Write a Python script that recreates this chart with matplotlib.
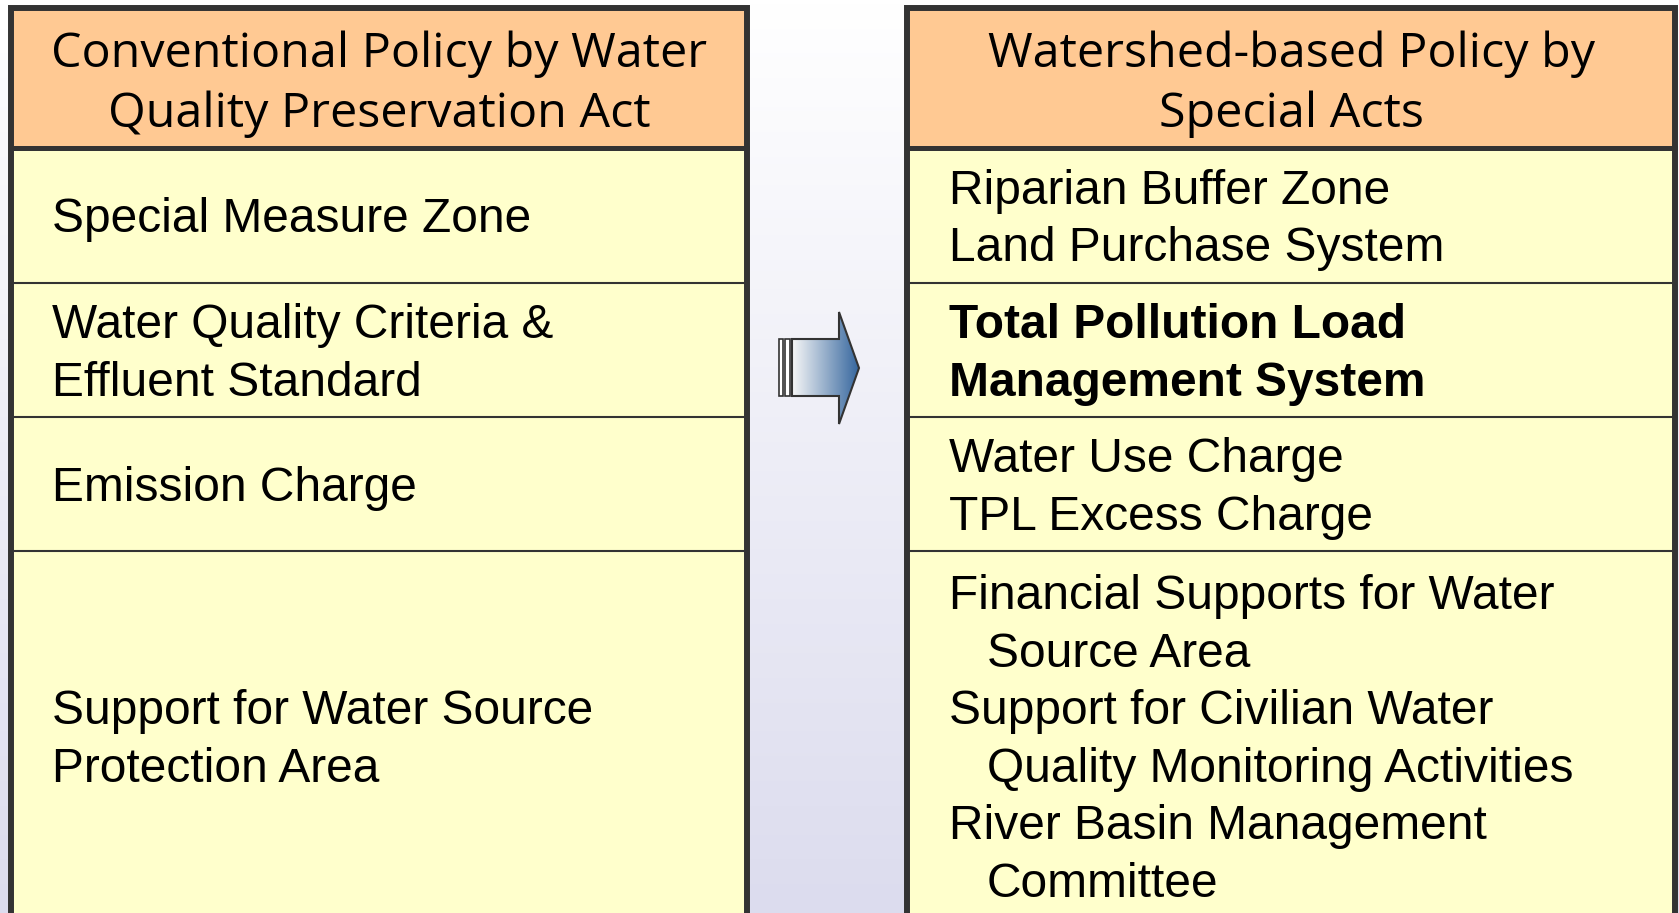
import numpy as np
import matplotlib
matplotlib.use("Agg")
import matplotlib.pyplot as plt
from matplotlib.patches import Rectangle, Polygon

# contents of the two tables
left_title = ["Conventional Policy by Water", "Quality Preservation Act"]
right_title = ["Watershed-based Policy by", "Special Acts"]

left_rows = [
    ["Special Measure Zone"],
    ["Water Quality Criteria &", "Effluent Standard"],
    ["Emission Charge"],
    ["Support for Water Source", "Protection Area"],
]
right_rows = [
    ["Riparian Buffer Zone", "Land Purchase System"],
    ["Total Pollution Load", "Management System"],
    ["Water Use Charge", "TPL Excess Charge"],
    ["Financial Supports for Water", "  Source Area",
     "Support for Civilian Water", "  Quality Monitoring Activities",
     "River Basin Management", "  Committee"],
]
right_bold = [False, True, False, False]

# layout in pixels (figure is 1679 x 913)
W, H = 1679, 913
head_top, head_bot = 8, 148
row_lines = [head_bot, 283, 417, 551, H]
left_box = (11, 747)
right_box = (907, 1675)

HEAD_COL = "#ffc993"
BODY_COL = "#ffffcc"
EDGE = "#333333"
FS = 34.5
HFS = 34.8

fig = plt.figure(figsize=(W / 100, H / 100), dpi=100)
ax = fig.add_axes([0, 0, 1, 1])
ax.set_xlim(0, W)
ax.set_ylim(H, 0)
ax.axis("off")

# background: white to pale lavender
grad = np.linspace(0, 1, 256)[:, None]
bg = np.ones((256, 1, 3))
bg[:, :, 0] = 1 - grad * (1 - 0xdc / 255)
bg[:, :, 1] = 1 - grad * (1 - 0xdc / 255)
bg[:, :, 2] = 1 - grad * (1 - 0xee / 255)
ax.imshow(bg, extent=[0, W, H, 0], aspect="auto", zorder=0)


def draw_table(x0, x1, title):
    ax.add_patch(Rectangle((x0, head_top), x1 - x0, head_bot - head_top,
                           facecolor=HEAD_COL, edgecolor="none", zorder=1))
    ax.add_patch(Rectangle((x0, head_bot), x1 - x0, H + 20 - head_bot,
                           facecolor=BODY_COL, edgecolor="none", zorder=1))
    # row separators
    for y in row_lines[1:-1]:
        ax.plot([x0, x1], [y, y], color=EDGE, lw=1.5, zorder=2)
    ax.plot([x0, x1], [head_bot, head_bot], color=EDGE, lw=3.6, zorder=3)
    # outer border (open at the bottom)
    ax.plot([x0, x0, x1, x1], [H + 20, head_top, head_top, H + 20],
            color=EDGE, lw=4.3, zorder=3, solid_joinstyle="miter")
    # header text
    cx = (x0 + x1) / 2
    for i, line in enumerate(title):
        ax.text(cx, 67 + i * 60, line, ha="center", va="baseline",
                fontsize=HFS, family="Open Sans", zorder=4)


draw_table(*left_box, left_title)
draw_table(*right_box, right_title)

# body text, vertically centred in each row
lh = 57.6
for x_text, rows, bolds in [(52, left_rows, [False] * 4),
                            (949, right_rows, right_bold)]:
    for r, lines in enumerate(rows):
        if r == 3:
            mid = 736
        else:
            mid = (row_lines[r] + row_lines[r + 1]) / 2
        n = len(lines)
        first = mid - (n - 1) * lh / 2
        for i, line in enumerate(lines):
            indent = 38 if line.startswith("  ") else 0
            ax.text(x_text + indent, first + i * lh + 17, line.strip(),
                    ha="left", va="baseline", fontsize=FS,
                    family="Liberation Sans",
                    fontweight="bold" if bolds[r] else "normal", zorder=4)

# arrow between the tables
arrow = Polygon([[792, 339], [839, 339], [839, 312], [859, 368],
                 [839, 424], [839, 396], [792, 396]], closed=True,
                facecolor="none", edgecolor=EDGE, lw=1.5, zorder=6)
ax.add_patch(arrow)
ag = np.linspace(0, 1, 256)[None, :]
c0 = np.array([0.97, 0.97, 0.97])
c1 = np.array([0x35, 0x66, 0x9e]) / 255
aimg = c0[None, None, :] * (1 - ag[..., None]) + c1[None, None, :] * ag[..., None]
im = ax.imshow(aimg, extent=[792, 859, 424, 312], aspect="auto", zorder=5)
im.set_clip_path(arrow)
for bx0, bx1 in [(779, 783), (785, 790)]:
    ax.add_patch(Rectangle((bx0, 339), bx1 - bx0, 57, facecolor="white",
                           edgecolor=EDGE, lw=1.2, zorder=6))

fig.savefig("out.png", dpi=100)
